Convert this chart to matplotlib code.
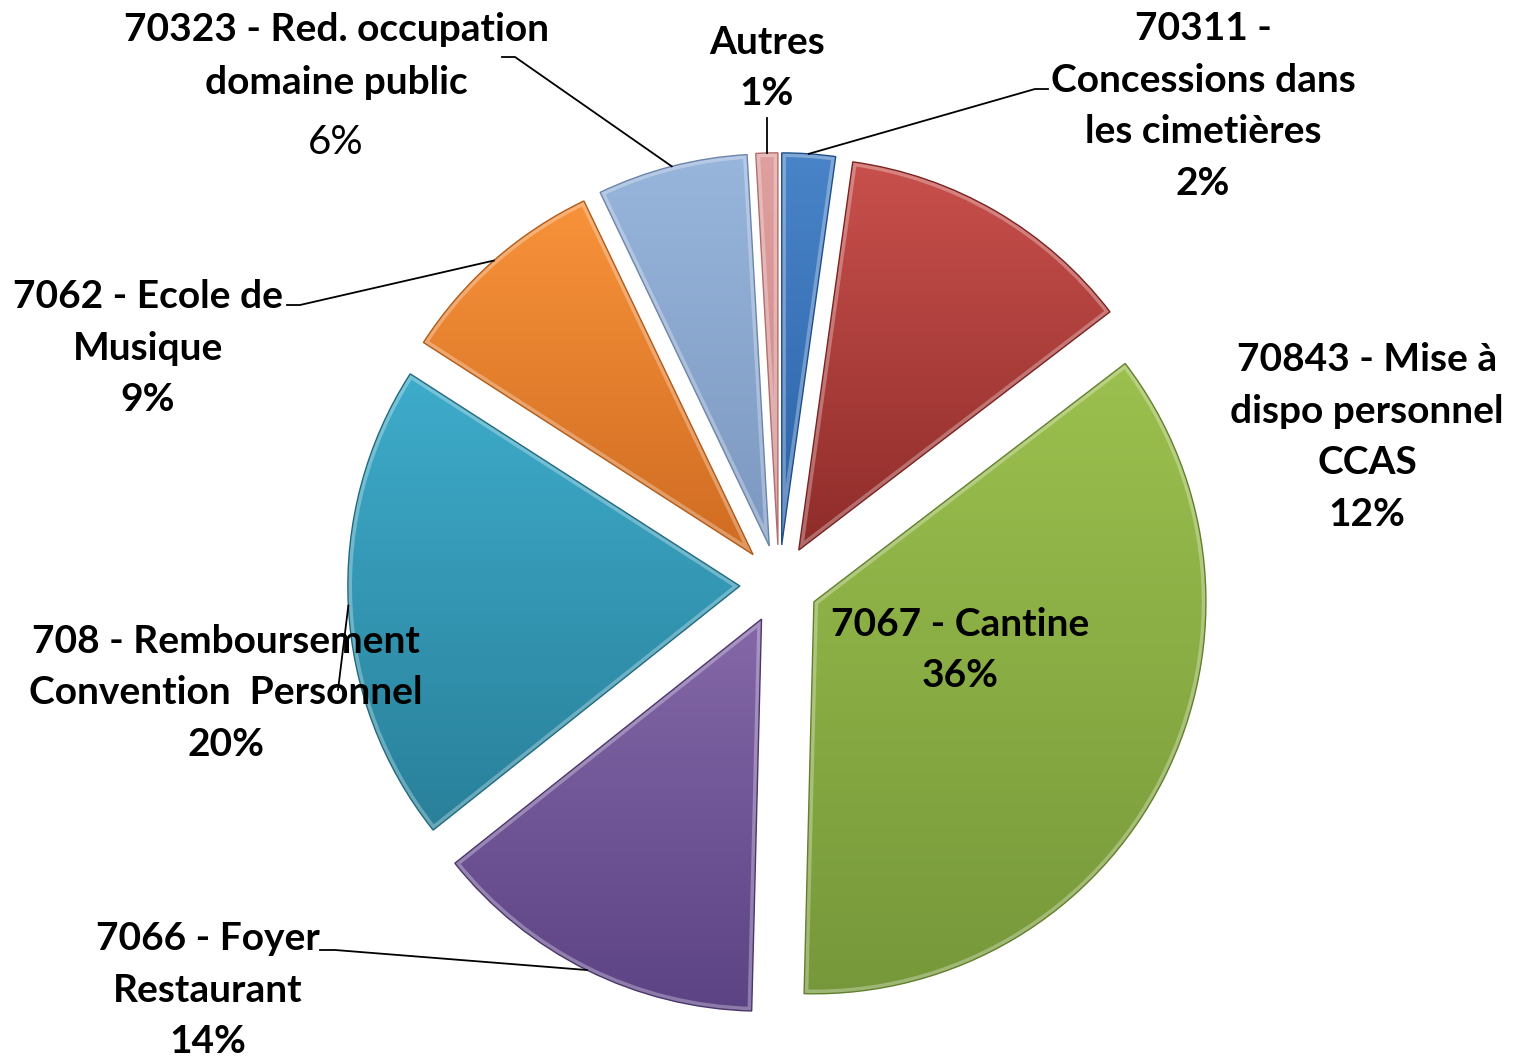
import numpy as np
import matplotlib.pyplot as plt
from matplotlib.colors import LinearSegmentedColormap
from matplotlib.patches import Wedge

# Slice data (clockwise from the top), shares in %
categories = ['70311 - Concessions dans les cimetières',
              '70843 - Mise à dispo personnel CCAS',
              '7067 - Cantine',
              '7066 - Foyer Restaurant',
              '708 - Remboursement Convention  Personnel',
              '7062 - Ecole de Musique',
              '70323 - Red. occupation domaine public',
              'Autres']
values = [2.2, 12.4, 35.8, 13.9, 19.8, 8.8, 6.2, 0.9]
label_texts = ['70311 -\nConcessions dans\nles cimetières',
               '70843 - Mise à\ndispo personnel\nCCAS',
               '7067 - Cantine',
               '7066 - Foyer\nRestaurant',
               '708 - Remboursement\nConvention  Personnel',
               '7062 - Ecole de\nMusique',
               '70323 - Red. occupation\ndomaine public',
               'Autres']
pct_texts = [f'{v:.0f}%' for v in values]

# light (top) / dark (bottom) colours of each slice
top_colors = ['#4a84c8', '#c9504c', '#9cc04e', '#8468a8', '#3eaccb', '#f8923a', '#98b5dc', '#e0a0a0']
bot_colors = ['#2a62a8', '#8e2c2a', '#76983a', '#5c4384', '#29809a', '#d06c22', '#7c98c0', '#cc8484']
edge_colors = ['#1f4e8a', '#7a2220', '#627f2c', '#4a356c', '#1f6a80', '#b05a18', '#6a84aa', '#b06e6e']

W, H = 1522, 1058
fig = plt.figure(figsize=(W / 100, H / 100), dpi=100)
ax = fig.add_axes([0, 0, 1, 1])

cx, cy = 779, H - 584
R = 392
# pie explode is in data units here, so 10% of the radius
wedges, _ = ax.pie(values, radius=R, center=(cx, cy), startangle=90, counterclock=False,
                   explode=[0.1 * R] * len(values), frame=True,
                   wedgeprops=dict(linewidth=1.0))
ax.set_xlim(0, W)
ax.set_ylim(0, H)
ax.set_aspect('equal')
ax.axis('off')

# gradient fill clipped to each wedge, plus a soft light rim for the bevel look
grad = np.linspace(1, 0, 256).reshape(-1, 1)
for w, c1, c2, ec in zip(wedges, top_colors, bot_colors, edge_colors):
    w.set_facecolor('none')
    w.set_edgecolor(ec)
    w.set_zorder(3)
    (x0, y0), (x1, y1) = w.get_path().get_extents(w.get_transform()).get_points()
    inv = ax.transData.inverted()
    (dx0, dy0), (dx1, dy1) = inv.transform([(x0, y0), (x1, y1)])
    cmap = LinearSegmentedColormap.from_list('g', [c2, c1])
    im = ax.imshow(grad, cmap=cmap, extent=(dx0, dx1, dy0, dy1), aspect='auto',
                   origin='upper', zorder=2, interpolation='bilinear')
    im.set_clip_path(w)
    rim = Wedge(w.center, w.r, w.theta1, w.theta2, facecolor='none',
                edgecolor='white', alpha=0.3, lw=6, zorder=2.5)
    ax.add_patch(rim)
    rim.set_clip_path(w)
ax.set_xlim(0, W)
ax.set_ylim(0, H)

font = dict(family=['Lato', 'DejaVu Sans'], fontsize=28, fontweight='bold', color='black')


def arc_point(w):
    th = np.deg2rad((w.theta1 + w.theta2) / 2)
    ox, oy = w.center
    return ox + w.r * np.cos(th), oy + w.r * np.sin(th)


# label positions (pixel centres, y from top) and leader stubs
label_pos = {
    0: (1203, 106), 1: (1367, 437), 2: (960, 650), 3: (208, 990),
    4: (226, 693), 5: (148, 348), 6: (336, 56), 7: (767, 68),
}
stubs = {0: (1048, 1035, 89), 5: (287, 300, 305), 3: (320, 335, 950), 6: (502, 515, 57)}

for i, w in enumerate(wedges):
    x, y = label_pos[i][0], H - label_pos[i][1]
    if i == 6:
        ax.text(x, y, label_texts[i], ha='center', va='center', linespacing=1.62, zorder=5, **font)
        f2 = dict(font)
        f2['fontweight'] = 'normal'
        f2['fontsize'] = 29
        ax.text(x, H - 142, pct_texts[i], ha='center', va='center', zorder=5, **f2)
    else:
        ax.text(x, y, label_texts[i] + '\n' + pct_texts[i], ha='center', va='center',
                linespacing=1.58, zorder=5, **font)

    ex, ey = arc_point(w)
    if i in stubs:
        sx0, sx1, sy = stubs[i]
        ax.plot([sx0, sx1, ex], [H - sy, H - sy, ey], color='black', lw=1.3, zorder=4)
    elif i == 7:
        ax.plot([ex, ex], [ey, H - 118], color='black', lw=1.3, zorder=4)
    elif i == 4:
        ax.plot([ex, 338], [ey, H - 690], color='black', lw=1.3, zorder=6)

fig.savefig('out.png', dpi=100)
